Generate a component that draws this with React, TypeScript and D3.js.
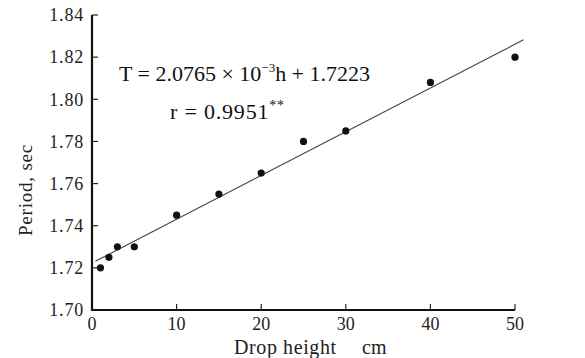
import React from "react";
import * as d3 from "d3";

const heights = [1, 2, 3, 5, 10, 15, 20, 25, 30, 40, 50];
const periods = [1.72, 1.725, 1.73, 1.73, 1.745, 1.755, 1.765, 1.78, 1.785, 1.808, 1.82];
const xTicks = [0, 10, 20, 30, 40, 50];
const yTicks = [1.7, 1.72, 1.74, 1.76, 1.78, 1.8, 1.82, 1.84];
const slope = 2.0765e-3;
const intercept = 1.7223;
const lineRange = [0.4, 51];

const W = 585;
const H = 358;
const FONT = "Liberation Serif, DejaVu Serif, serif";

export default function App() {
  const x = d3.scaleLinear().domain([0, 50]).range([92, 515]);
  const y = d3.scaleLinear().domain([1.7, 1.84]).range([310, 15]);
  const lineGen = d3
    .line<number>()
    .x((h) => x(h))
    .y((h) => y(intercept + slope * h));

  return (
    <svg
      width={W}
      height={H}
      style={{ position: "absolute", left: 0, top: 0, background: "#fff", fontFamily: FONT }}
    >
      <rect width={W} height={H} fill="#ffffff" />
      <path d={lineGen(lineRange) || ""} stroke="#444" strokeWidth={1.1} fill="none" />
      {heights.map((h, i) => (
        <circle key={i} cx={x(h)} cy={y(periods[i])} r={3.6} fill="#111" />
      ))}
      <line x1={x(0)} x2={x(0)} y1={y(1.84)} y2={y(1.7) + 1} stroke="#111" strokeWidth={2.2} />
      <line x1={x(0) - 1} x2={x(50)} y1={y(1.7)} y2={y(1.7)} stroke="#111" strokeWidth={2.2} />
      {yTicks.map((t) => (
        <g key={t}>
          {t > 1.7 && (
            <line x1={x(0)} x2={x(0) + 6} y1={y(t)} y2={y(t)} stroke="#222" strokeWidth={1.2} />
          )}
          <text
            x={x(0) - 8}
            y={y(t)}
            dy="0.35em"
            textAnchor="end"
            fill="#222"
            style={{ fontFamily: FONT, fontSize: 18, letterSpacing: 0.8 }}
          >
            {t.toFixed(2)}
          </text>
        </g>
      ))}
      {xTicks.map((t) => (
        <g key={t}>
          {t > 0 && (
            <line x1={x(t)} x2={x(t)} y1={y(1.7)} y2={y(1.7) - 6} stroke="#222" strokeWidth={1.2} />
          )}
          <text
            x={x(t)}
            y={330}
            textAnchor="middle"
            fill="#222"
            style={{ fontFamily: FONT, fontSize: 18 }}
          >
            {t}
          </text>
        </g>
      ))}
      <text x={234} y={354} fill="#222" style={{ fontFamily: FONT, fontSize: 20, letterSpacing: 0.6 }}>
        Drop height
      </text>
      <text x={362} y={354} fill="#222" style={{ fontFamily: FONT, fontSize: 20 }}>
        cm
      </text>
      <text
        transform="translate(32,190) rotate(-90)"
        textAnchor="middle"
        fill="#222"
        style={{ fontFamily: FONT, fontSize: 19, letterSpacing: 0.8 }}
      >
        Period, sec
      </text>
      <text
        x={119}
        y={81}
        fill="#111"
        textLength={251}
        lengthAdjust="spacing"
        style={{ fontFamily: FONT, fontSize: 22 }}
      >
        <tspan>T = 2.0765 × 10</tspan>
        <tspan dy={-9} style={{ fontSize: 13 }}>−3</tspan>
        <tspan dy={9}>h + 1.7223</tspan>
      </text>
      <text x={170} y={119} fill="#111" style={{ fontFamily: FONT, fontSize: 22, letterSpacing: 0.8 }}>
        <tspan>r = 0.9951</tspan>
        <tspan dy={-9} style={{ fontSize: 14 }}>**</tspan>
      </text>
    </svg>
  );
}
